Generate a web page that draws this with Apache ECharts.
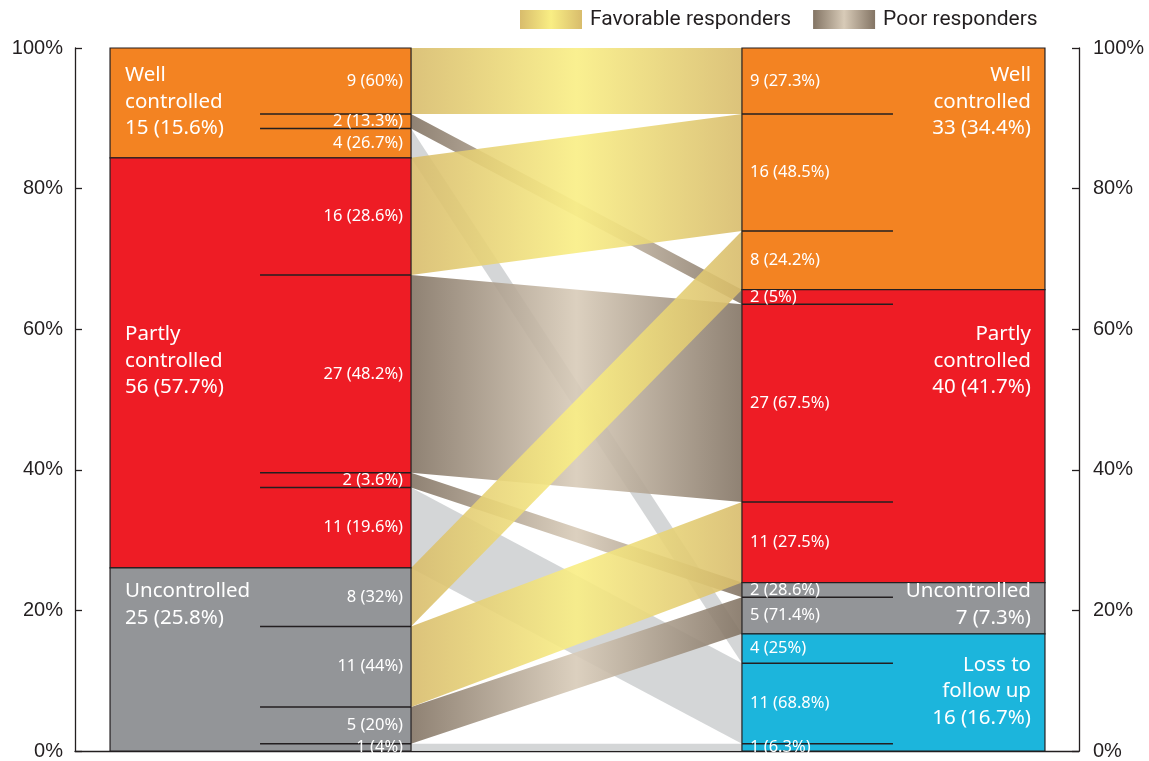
<!DOCTYPE html>
<html><head><meta charset="utf-8">
<script src="https://cdn.jsdelivr.net/npm/echarts@6/dist/echarts.min.js"></script>
<style>html,body{margin:0;padding:0;background:#fff}#c{width:1149px;height:761px}</style>
</head><body><div id="c"></div>
<script>
// ---------- data ----------
const TOTAL = 96;
const leftNames = ['Well\ncontrolled', 'Partly\ncontrolled', 'Uncontrolled'];
const leftCounts = [15, 56, 25];
const leftShares = ['15.6%', '57.7%', '25.8%'];
const rightNames = ['Well\ncontrolled', 'Partly\ncontrolled', 'Uncontrolled', 'Loss to\nfollow up'];
const rightCounts = [33, 40, 7, 16];
const rightShares = ['34.4%', '41.7%', '7.3%', '16.7%'];
const flowFrom = [0, 0, 0, 1, 1, 1, 1, 2, 2, 2, 2];
const flowTo = [0, 1, 3, 0, 1, 2, 3, 0, 1, 2, 3];
const flowCounts = [9, 2, 4, 16, 27, 2, 11, 8, 11, 5, 1];
const flowKinds = ['fav', 'poor', 'loss', 'fav', 'poor', 'poor', 'loss', 'fav', 'fav', 'poor', 'loss'];
const flowFromShares = ['60%', '13.3%', '26.7%', '28.6%', '48.2%', '3.6%', '19.6%', '32%', '44%', '20%', '4%'];
const flowToShares = ['27.3%', '5%', '25%', '48.5%', '67.5%', '28.6%', '68.8%', '24.2%', '27.5%', '71.4%', '6.3%'];
const yTicks = [0, 20, 40, 60, 80, 100];
const legendNames = ['Favorable responders', 'Poor responders'];

// ---------- layout (x in axis units 0..100 of the grid width) ----------
const L_X0 = 3.49, L_X1 = 33.47, L_LINE = 18.43;
const R_X0 = 66.43, R_X1 = 96.61, R_LINE = 81.47;
const leftLabelCenter = [92.3, 55.5, 20.8];
const rightLabelCenter = [92.3, 55.5, 20.8, 8.5];

const nodeColors = ['#F38322', '#EE1C25', '#939598', '#1CB5DC'];
const DARK = '#231F20';
const FONT = '"Noto Sans", sans-serif';

function pct(n) { return n / TOTAL * 100; }

const leftTop = []; { let a = 100; leftCounts.forEach(c => { leftTop.push(a); a -= pct(c); }); }
const rightTop = []; { let a = 100; rightCounts.forEach(c => { rightTop.push(a); a -= pct(c); }); }
const flowL = [], flowR = [];
{
  const lc = leftTop.slice(), rc = rightTop.slice();
  flowCounts.forEach((c, i) => {
    const s = flowFrom[i], t = flowTo[i];
    flowL.push([lc[s], lc[s] - pct(c)]); lc[s] -= pct(c);
    flowR.push([rc[t], rc[t] - pct(c)]); rc[t] -= pct(c);
  });
}

function grad(edge, mid) {
  return new echarts.graphic.LinearGradient(0, 0, 1, 0, [
    { offset: 0, color: edge }, { offset: 0.5, color: mid }, { offset: 1, color: edge }
  ]);
}
const favGrad = () => grad('#D8BC6C', '#F9EE84');
const poorGrad = () => grad('#837464', '#D8CBB8');
const fills = { fav: favGrad, poor: poorGrad, loss: () => '#CFD1D3' };

function flowSeries(kind, name) {
  const idx = flowCounts.map((c, i) => i).filter(i => flowKinds[i] === kind);
  return {
    type: 'custom', name: name, z: kind === 'loss' ? 1 : kind === 'poor' ? 2 : 3,
    silent: true,
    itemStyle: { color: kind === 'loss' ? '#CFD1D3' : fills[kind]() },
    data: idx.map(i => [flowFrom[i], flowTo[i], flowCounts[i], i]),
    renderItem: function (params, api) {
      const i = api.value(3);
      const p1 = api.coord([L_X1, flowL[i][0]]);
      const p2 = api.coord([R_X0, flowR[i][0]]);
      const p3 = api.coord([R_X0, flowR[i][1]]);
      const p4 = api.coord([L_X1, flowL[i][1]]);
      return {
        type: 'polygon',
        shape: { points: [p1, p2, p3, p4] },
        style: { fill: fills[kind](), opacity: 0.9 }
      };
    }
  };
}

const nodeData = [];
leftCounts.forEach((c, i) => nodeData.push([0, i, c]));
rightCounts.forEach((c, i) => nodeData.push([1, i, c]));

const nodeSeries = {
  type: 'custom', name: 'nodes', z: 5, silent: true,
  data: nodeData,
  renderItem: function (params, api) {
    const side = api.value(0), i = api.value(1), c = api.value(2);
    const top = side === 0 ? leftTop[i] : rightTop[i];
    const x0 = side === 0 ? L_X0 : R_X0, x1 = side === 0 ? L_X1 : R_X1;
    const a = api.coord([x0, top]), b = api.coord([x1, top - pct(c)]);
    const children = [{
      type: 'rect',
      shape: { x: a[0], y: a[1], width: b[0] - a[0], height: b[1] - a[1] },
      style: { fill: nodeColors[i], stroke: DARK, lineWidth: 1.2 }
    }];
    flowCounts.forEach((fc, k) => {
      const mine = side === 0 ? flowFrom[k] === i : flowTo[k] === i;
      if (!mine) return;
      const rng = side === 0 ? flowL[k] : flowR[k];
      const bottom = rng[1];
      if (Math.abs(bottom - (top - pct(c))) > 1e-6) {
        const la = side === 0 ? api.coord([L_LINE, bottom]) : api.coord([R_X0, bottom]);
        const lb = side === 0 ? api.coord([L_X1, bottom]) : api.coord([R_LINE, bottom]);
        children.push({
          type: 'line', shape: { x1: la[0], y1: la[1], x2: lb[0], y2: lb[1] },
          style: { stroke: DARK, lineWidth: 1.5 }
        });
      }
      const mid = (rng[0] + rng[1]) / 2;
      const share = side === 0 ? flowFromShares[k] : flowToShares[k];
      const lp = side === 0 ? api.coord([L_X1, mid]) : api.coord([R_X0, mid]);
      children.push({
        type: 'text', z2: 10,
        x: side === 0 ? lp[0] - 8 : lp[0] + 8, y: lp[1],
        style: {
          text: fc + ' (' + share + ')', fill: '#fff',
          fontSize: 16.5, fontFamily: FONT,
          align: side === 0 ? 'right' : 'left', verticalAlign: 'middle'
        }
      });
    });
    const names = side === 0 ? leftNames : rightNames;
    const shares = side === 0 ? leftShares : rightShares;
    const center = side === 0 ? leftLabelCenter[i] : rightLabelCenter[i];
    const np = side === 0 ? api.coord([L_X0, center]) : api.coord([R_X1, center]);
    children.push({
      type: 'text', z2: 10,
      x: side === 0 ? np[0] + 15 : np[0] - 14, y: np[1],
      style: {
        text: names[i] + '\n' + c + ' (' + shares[i] + ')',
        fill: '#fff', fontSize: 20.5, fontFamily: FONT, lineHeight: 26.5,
        align: side === 0 ? 'left' : 'right', verticalAlign: 'middle'
      }
    });
    return { type: 'group', children: children };
  }
};

const axisCommon = {
  type: 'value', min: yTicks[0], max: yTicks[yTicks.length - 1], interval: yTicks[1] - yTicks[0],
  splitLine: { show: false },
  axisLine: { show: true, lineStyle: { color: DARK, width: 1.3 } },
  axisTick: { show: true, inside: true, length: 7, lineStyle: { color: DARK, width: 1.3 } },
  axisLabel: { formatter: '{value}%', fontSize: 20, color: DARK, fontFamily: '"Liberation Sans", Arial, sans-serif' }
};

const chart = echarts.init(document.getElementById('c'));
chart.setOption({
  animation: false,
  backgroundColor: '#fff',
  grid: { left: 75, right: 70, top: 48, bottom: 10 },
  legend: {
    left: 520, top: 9, padding: 0, icon: 'rect', itemWidth: 62, itemHeight: 19, itemGap: 22,
    selectedMode: false,
    textStyle: { fontSize: 21, fontFamily: 'Roboto, sans-serif', color: DARK, padding: [0, 0, 0, 3] },
    data: [
      { name: legendNames[0], itemStyle: { color: favGrad() } },
      { name: legendNames[1], itemStyle: { color: poorGrad() } }
    ]
  },
  xAxis: {
    type: 'value', min: 0, max: 100,
    axisLine: { show: true, onZero: false, lineStyle: { color: DARK, width: 1.3 } },
    axisTick: { show: false }, axisLabel: { show: false }, splitLine: { show: false }
  },
  yAxis: [
    Object.assign({}, axisCommon, { position: 'left', axisLabel: Object.assign({}, axisCommon.axisLabel, { margin: 12 }) }),
    Object.assign({}, axisCommon, { position: 'right', axisLabel: Object.assign({}, axisCommon.axisLabel, { margin: 14 }) })
  ],
  series: [
    flowSeries('loss', 'Loss to follow up'),
    flowSeries('poor', legendNames[1]),
    flowSeries('fav', legendNames[0]),
    nodeSeries
  ]
});
</script></body></html>
